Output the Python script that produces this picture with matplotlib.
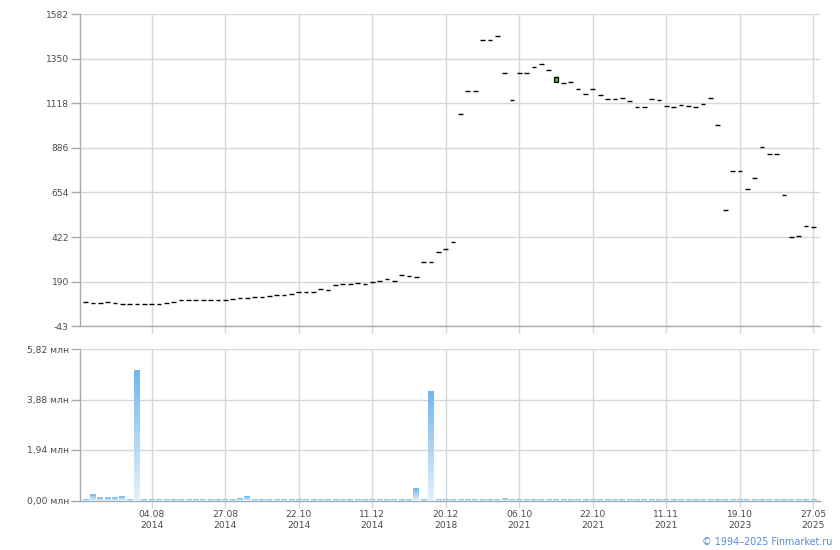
import numpy as np
import matplotlib
matplotlib.use("Agg")
import matplotlib.pyplot as plt
from matplotlib.patches import Rectangle
from matplotlib.colors import LinearSegmentedColormap

# ---------------- data ----------------
price = [82, 80, 80, 84, 80, 73, 75, 75, 75, 75,
         75, 78, 85, 92, 92, 92, 92, 92, 92, 92,
         98, 103, 106, 108, 111, 113, 118, 120, 125, 134,
         134, 134, 150, 145, 172, 179, 179, 181, 176, 186,
         195, 202, 191, 224, 219, 212, 290, 290, 342, 358,
         395, 1061, 1181, 1181, 1447, 1447, 1467, 1275, 1134, 1275,
         1275, 1306, 1322, 1290, 1257, 1223, 1228, 1191, 1165, 1191,
         1160, 1139, 1139, 1144, 1129, 1098, 1098, 1139, 1134, 1103,
         1098, 1108, 1103, 1098, 1113, 1144, 1004, 561, 764, 764,
         671, 728, 889, 853, 853, 639, 421, 426, 478, 473]
# the one candle with a visible body: index -> open price
candle_open = {64: 1231}

volume_mln = [0.04, 0.24, 0.13, 0.13, 0.13, 0.16, 0.04, 5.03, 0.04, 0.04,
              0.04, 0.04, 0.04, 0.04, 0.04, 0.04, 0.04, 0.04, 0.04, 0.04,
              0.04, 0.08, 0.16, 0.04, 0.04, 0.04, 0.04, 0.04, 0.04, 0.04,
              0.04, 0.04, 0.04, 0.04, 0.04, 0.04, 0.04, 0.04, 0.04, 0.04,
              0.04, 0.04, 0.04, 0.04, 0.04, 0.49, 0.04, 4.22, 0.04, 0.04,
              0.04, 0.04, 0.04, 0.04, 0.04, 0.04, 0.04, 0.08, 0.04, 0.04,
              0.04, 0.04, 0.04, 0.04, 0.04, 0.04, 0.04, 0.04, 0.04, 0.04,
              0.04, 0.04, 0.04, 0.04, 0.04, 0.04, 0.04, 0.04, 0.04, 0.04,
              0.04, 0.04, 0.04, 0.04, 0.04, 0.04, 0.04, 0.04, 0.04, 0.04,
              0.04, 0.04, 0.04, 0.04, 0.04, 0.04, 0.04, 0.04, 0.04, 0.04]

price_ticks = [-43, 190, 422, 654, 886, 1118, 1350, 1582]
price_tick_labels = ["-43", "190", "422", "654", "886", "1118", "1350", "1582"]
volume_ticks = [0.0, 1.94, 3.88, 5.82]
volume_tick_labels = ["0,00 млн", "1,94 млн", "3,88 млн", "5,82 млн"]
date_tick_labels = ["04.08\n2014", "27.08\n2014", "22.10\n2014", "11.12\n2014",
                    "20.12\n2018", "06.10\n2021", "22.10\n2021", "11.11\n2021",
                    "19.10\n2023", "27.05\n2025"]
copyright_text = "© 1994–2025 Finmarket.ru"

# ---------------- style ----------------
plt.rcParams['font.family'] = ['DejaVu Sans']
GRID = '#d3d8dc'
SPINE = '#a6abb0'
TXT = '#4a4a4a'
FS = 6.6

n = len(price)
x = np.arange(n)
tick_pos = np.arange(n - 1 - 10 * (len(date_tick_labels) - 1), n, 10)

fig = plt.figure(figsize=(8.4, 5.5), dpi=100)
ax1 = fig.add_axes([80 / 840, 1 - 326.3 / 550, 740 / 840, 312 / 550])
ax2 = fig.add_axes([80 / 840, 1 - 500.5 / 550, 740 / 840, 151.5 / 550])

xlim = (-0.75, n - 0.1)

for ax in (ax1, ax2):
    ax.set_xlim(*xlim)
    for s in ('top', 'right'):
        ax.spines[s].set_visible(False)
    for s in ('left', 'bottom'):
        ax.spines[s].set_color(SPINE)
        ax.spines[s].set_linewidth(1.0)
    ax.set_xticks(tick_pos)
    ax.grid(True, color=GRID, linewidth=1.0)
    ax.set_axisbelow(True)
    ax.tick_params(axis='y', length=6.5, width=1.0, color=SPINE, pad=1.5,
                   labelsize=FS, labelcolor=TXT)
    ax.tick_params(axis='x', length=5, width=1.0, color=GRID, pad=1.5,
                   labelsize=FS, labelcolor=TXT)

# price panel
ax1.set_ylim(price_ticks[0], price_ticks[-1])
ax1.set_yticks(price_ticks)
ax1.set_yticklabels(price_tick_labels)
ax1.set_xticklabels([])

half = 0.32
ax1.hlines(price, x - half, x + half, colors='black', linewidth=1.0, zorder=3)
for i, o in candle_open.items():
    c = price[i]
    lo, hi = min(o, c), max(o, c)
    col = '#22cc22' if c >= o else '#dd2222'
    ax1.add_patch(Rectangle((i - 0.27, lo), 0.54, hi - lo, facecolor=col,
                            edgecolor='black', linewidth=0.9, zorder=4))

# volume panel
ax2.set_ylim(volume_ticks[0], volume_ticks[-1])
ax2.set_yticks(volume_ticks)
ax2.set_yticklabels(volume_tick_labels)
ax2.set_xticklabels(date_tick_labels, linespacing=1.35)

cmap = LinearSegmentedColormap.from_list('vol', ['#e6f1fb', '#72b7ee'])
grad = np.linspace(0, 1, 256).reshape(-1, 1)
bw = 0.78
for i, v in enumerate(volume_mln):
    ax2.imshow(grad, extent=[i - bw / 2, i + bw / 2, 0, v], origin='lower',
               aspect='auto', cmap=cmap, zorder=3, interpolation='bilinear')
ax2.set_xlim(*xlim)
ax2.set_ylim(volume_ticks[0], volume_ticks[-1])

fig.text(832 / 840, 1 - 542 / 550, copyright_text, ha='right', va='center',
         fontsize=6.9, color='#5b8ad6')

fig.savefig('out.png', dpi=100)
